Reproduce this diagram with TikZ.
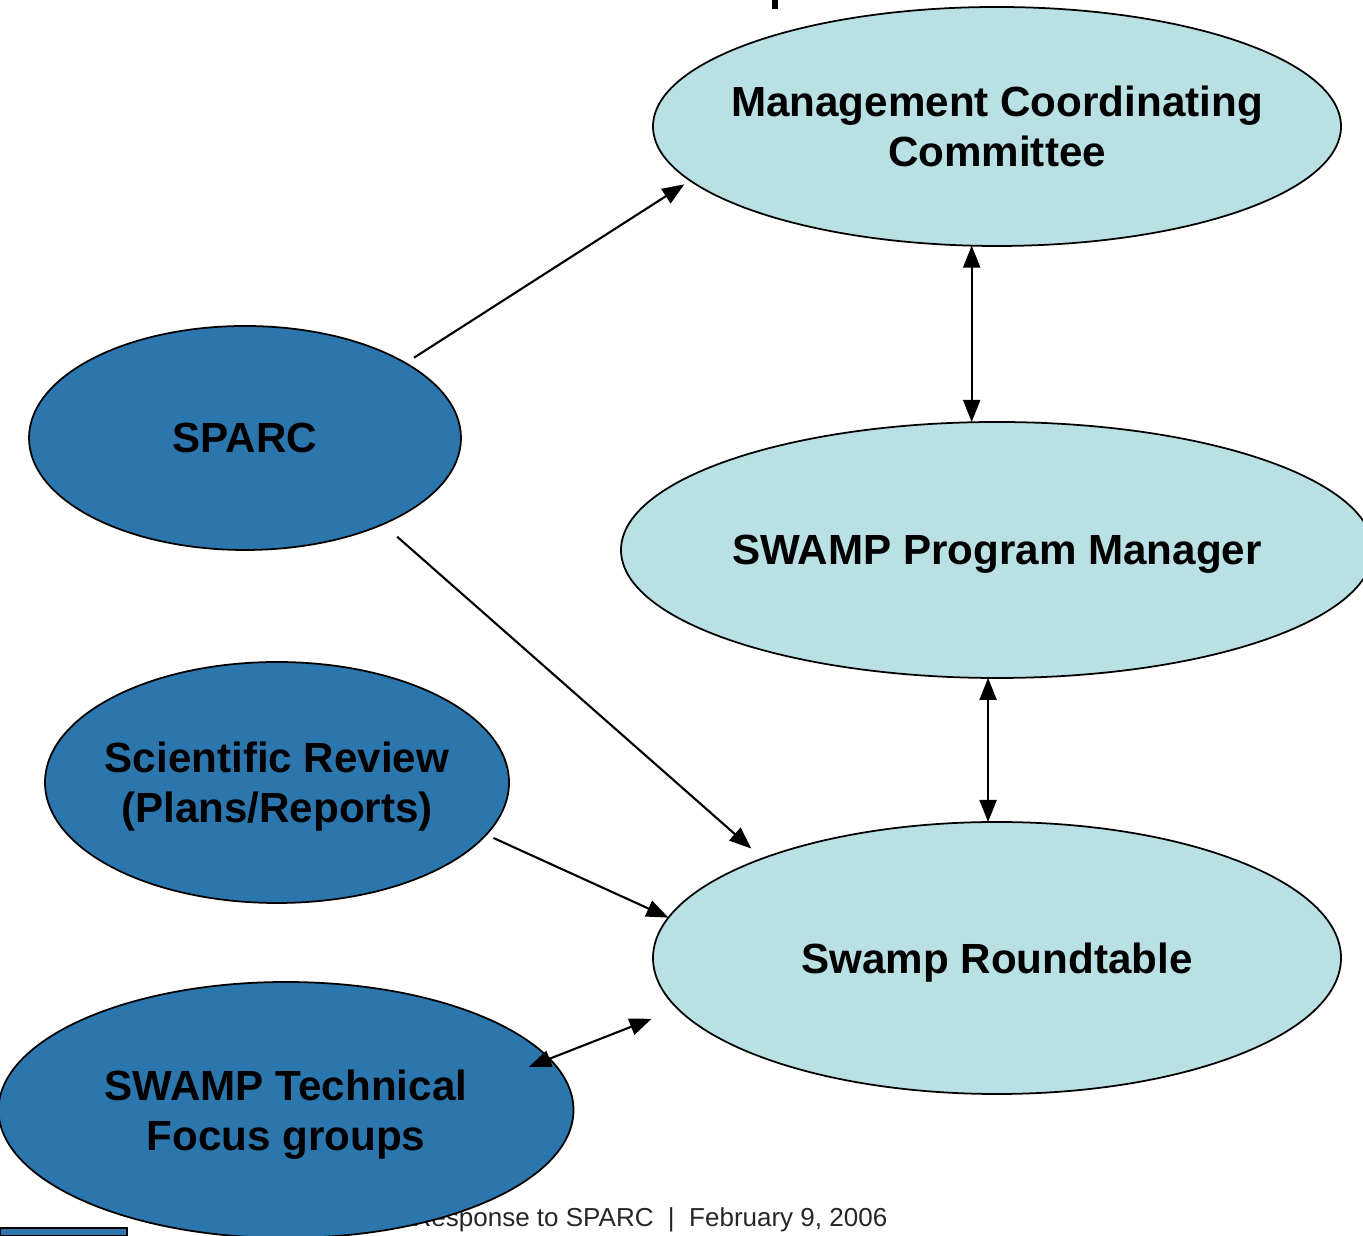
\documentclass[tikz,border=0pt]{standalone}
\usepackage{fontspec}
\setmainfont{Liberation Sans}
\usetikzlibrary{shapes.geometric, arrows.meta}

\definecolor{darkblob}{RGB}{44,118,174}
\definecolor{lightblob}{RGB}{185,224,227}

\begin{document}
\begin{tikzpicture}[
        blob/.style={ellipse, draw=black, line width=0.5pt, inner xsep=-1cm, inner ysep=-0.3cm,
            outer sep=0pt, text depth=0pt, align=center, font=\fontsize{12}{14.2}\selectfont\bfseries},
        darkblob/.style={blob, fill=darkblob},
        lightblob/.style={blob, fill=lightblob},
        arr/.style={line width=0.6pt, -{Triangle[length=0.22cm, width=0.17cm]}},
        dbl/.style={line width=0.6pt, {Triangle[length=0.22cm, width=0.17cm]}-{Triangle[length=0.22cm, width=0.17cm]}}
    ]
        \useasboundingbox (0,0) rectangle (13.63,12.36);

        % Slide leftovers
        \fill (7.72,12.27) rectangle (7.78,12.36);
        \fill[darkblob] (0,0) rectangle (1.27,0.08);
        \node[anchor=base east, inner sep=0pt, text=black!85, font=\fontsize{7.4}{9}\selectfont] (footer)
            at (8.88,0.09) {Response to SPARC~~|~~February 9, 2006};

        % Committees (light)
        \node[lightblob, minimum width=6.88cm, minimum height=2.39cm] (mcc) at (9.97,11.095)
            {Management Coordinating\\Committee};
        \node[lightblob, minimum width=7.52cm, minimum height=2.56cm] (spm) at (9.97,6.86)
            {SWAMP Program Manager};
        \node[lightblob, minimum width=6.88cm, minimum height=2.72cm] (rt) at (9.97,2.78)
            {Swamp Roundtable};

        % Advisory groups (dark)
        \node[darkblob, minimum width=4.32cm, minimum height=2.24cm] (sparc) at (2.45,7.98) {SPARC};
        \node[darkblob, minimum width=4.64cm, minimum height=2.41cm] (scirev) at (2.77,4.535)
            {Scientific Review\\(Plans/Reports)};
        \node[darkblob, minimum width=5.75cm, minimum height=2.56cm] (tech) at (2.86,1.26)
            {SWAMP Technical\\Focus groups};

        % Links
        \draw[arr, shorten <=0.1cm, shorten >=0.07cm] (sparc.25.5) -- (mcc.190.3);
        \draw[dbl] (mcc.258.6) -- (mcc.258.6 |- spm.north);
        \draw[dbl] (spm.266.9) -- (spm.266.9 |- rt.north);
        \draw[arr, shorten <=0.19cm, shorten >=0.15cm] (sparc.-32.4) -- (rt.157.1);
        \draw[arr, shorten <=0.08cm] (scirev.-14.4) -- (rt.173.1);
        \draw[dbl, shorten <=-0.22cm, shorten >=0.28cm] (tech.11.3) -- (rt.189.4);
    \end{tikzpicture}
\end{document}
